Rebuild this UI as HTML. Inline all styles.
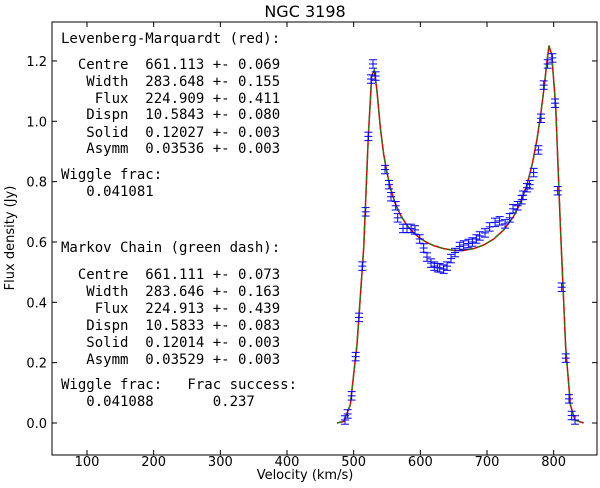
<!DOCTYPE html>
<html><head><meta charset="utf-8"><style>
body{margin:0;background:#fff;}
svg text{font-family:"DejaVu Sans","Liberation Sans",sans-serif;}
.m{font-family:"DejaVu Sans Mono","Liberation Mono",monospace;font-size:14px;white-space:pre;}
</style></head><body>
<svg id="c" width="600" height="483" xmlns="http://www.w3.org/2000/svg">
<text x="305" y="17" font-size="16" text-anchor="middle">NGC 3198</text>
<rect x="52" y="22" width="545" height="433" fill="none" stroke="#000" stroke-width="1"/>
<g id="ax"></g>
<g id="marks"></g>
<text x="305" y="479" font-size="13" text-anchor="middle">Velocity (km/s)</text>
<text x="14" y="238" font-size="13" text-anchor="middle" transform="rotate(-90 14 238)">Flux density (Jy)</text>
<g>
<text class="m" x="61" y="43">Levenberg-Marquardt (red):</text>
<text class="m" x="61" y="69">  Centre  661.113 +- 0.069</text>
<text class="m" x="61" y="86">   Width  283.648 +- 0.155</text>
<text class="m" x="61" y="103">    Flux  224.909 +- 0.411</text>
<text class="m" x="61" y="119">   Dispn  10.5843 +- 0.080</text>
<text class="m" x="61" y="137">   Solid  0.12027 +- 0.003</text>
<text class="m" x="61" y="153">   Asymm  0.03536 +- 0.003</text>
<text class="m" x="61" y="179">Wiggle frac:</text>
<text class="m" x="61" y="196">   0.041081</text>
</g>
<g>
<text class="m" x="61" y="252">Markov Chain (green dash):</text>
<text class="m" x="61" y="279">  Centre  661.111 +- 0.073</text>
<text class="m" x="61" y="296">   Width  283.646 +- 0.163</text>
<text class="m" x="61" y="313">    Flux  224.913 +- 0.439</text>
<text class="m" x="61" y="330">   Dispn  10.5833 +- 0.083</text>
<text class="m" x="61" y="347">   Solid  0.12014 +- 0.003</text>
<text class="m" x="61" y="364">   Asymm  0.03529 +- 0.003</text>
<text class="m" x="61" y="389">Wiggle frac:   Frac success:</text>
<text class="m" x="61" y="406">   0.041088       0.237</text>
</g>
</svg>
<script>
const xTicks=[100,200,300,400,500,600,700,800];
const yTicks=[0.0,0.2,0.4,0.6,0.8,1.0,1.2];
const obsVel=[487,491,497,503,508,513,518,522,526,529,533,547,553,556,563,566,574,580,586,592,599,605,610,616,621,626,629,635,640,646,652,659,665,672,678,684,689,697,704,712,719,727,734,739,746,752,754,760,764,770,777,781,785,791,798,802,806,812,818,823,827,832];
const obsFlux=[0.01,0.03,0.09,0.22,0.35,0.52,0.70,0.95,1.14,1.19,1.15,0.84,0.79,0.75,0.72,0.68,0.645,0.645,0.645,0.64,0.61,0.58,0.55,0.53,0.52,0.515,0.514,0.51,0.52,0.545,0.565,0.585,0.59,0.595,0.60,0.61,0.62,0.63,0.65,0.665,0.67,0.66,0.68,0.71,0.72,0.74,0.755,0.78,0.79,0.83,0.905,1.01,1.12,1.19,1.21,1.06,0.77,0.45,0.215,0.08,0.025,0.01];
const modelVel=[475,485,495,505,515,522,527,531,535,540,545,550,555,562,570,580,590,600,610,620,635,650,665,680,695,710,725,740,750,760,768,775,781,786,790,793,797,803,810,818,825,832,845];
const modelFlux=[0,0.005,0.06,0.26,0.58,0.95,1.15,1.17,1.1,0.98,0.89,0.83,0.78,0.73,0.69,0.655,0.63,0.612,0.598,0.588,0.578,0.572,0.572,0.578,0.59,0.61,0.64,0.685,0.73,0.79,0.86,0.94,1.03,1.12,1.2,1.25,1.22,1.05,0.65,0.25,0.06,0.01,0];
const errBar=0.014;
const NS='http://www.w3.org/2000/svg';
function X(v){return 87+(v-100)*0.6667;}
function Y(f){return 423-f*301.7;}
function mk(t,a,p){const e=document.createElementNS(NS,t);for(const k in a)e.setAttribute(k,a[k]);p.appendChild(e);return e;}
const ax=document.getElementById('ax'),mg=document.getElementById('marks');
xTicks.forEach(t=>{const x=X(t);
mk('line',{x1:x,x2:x,y1:455,y2:450,stroke:'#000'},ax);
mk('line',{x1:x,x2:x,y1:22,y2:27,stroke:'#000'},ax);
const tx=mk('text',{x:x,y:466,'font-size':13,'text-anchor':'middle'},ax);tx.textContent=t;

});
yTicks.forEach(t=>{const y=Y(t);
mk('line',{x1:52,x2:57,y1:y,y2:y,stroke:'#000'},ax);
mk('line',{x1:597,x2:592,y1:y,y2:y,stroke:'#000'},ax);
const tx=mk('text',{x:47,y:y+5,'font-size':13,'text-anchor':'end'},ax);tx.textContent=t.toFixed(1);

});
const pts=modelVel.map((v,i)=>X(v).toFixed(1)+','+Y(modelFlux[i]).toFixed(1)).join(' ');
const red=mk('polyline',{points:pts,fill:'none',stroke:'#e00000','stroke-width':1.5,'stroke-linejoin':'round'},mg);


const grn=mk('polyline',{points:pts,fill:'none',stroke:'#2a7a10','stroke-width':1.5,'stroke-dasharray':'5,5'},mg);


obsVel.forEach((v,i)=>{const x=X(v),y1=Y(obsFlux[i]+errBar),y2=Y(obsFlux[i]-errBar);
const g=mk('g',{stroke:'#0000ff','stroke-width':1},mg);


mk('line',{x1:x,x2:x,y1:y1,y2:y2},g);
mk('line',{x1:x-4,x2:x+4,y1:y1,y2:y1},g);
mk('line',{x1:x-4,x2:x+4,y1:y2,y2:y2},g);
mk('line',{x1:x-4,x2:x+4,y1:Y(obsFlux[i]),y2:Y(obsFlux[i])},g);});
</script>
</body></html>
